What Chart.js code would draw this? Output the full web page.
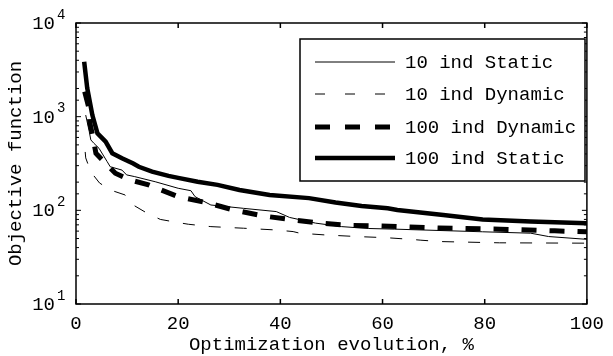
<!DOCTYPE html>
<html>
<head>
<meta charset="utf-8">
<script src="https://cdn.jsdelivr.net/npm/chart.js@4.4.1/dist/chart.umd.min.js"></script>
<style>
  html, body { margin: 0; padding: 0; background: #fff; }
  #c { display: block; }
</style>
</head>
<body>
<canvas id="c" width="613" height="356"></canvas>
<script>
// ---- data (x in %, y = objective function) ----
const s10X = [1.9, 2.6, 2.9, 3.5, 4.5, 6.1, 6.7, 9.0, 9.9, 11.5, 15.5, 20, 22.5, 23.3, 26.4, 32.8, 39.2, 41.8, 46.9, 52, 57.2, 62.3, 79.6, 89, 92.5, 100];
const s10Y = [1040, 692, 565, 520, 460, 331, 292, 269, 239, 229, 202, 172, 162, 140, 114, 105, 97, 84, 73, 67, 64, 63, 59, 57, 52.5, 49];

const d10X = [1.8, 1.9, 2.9, 4.6, 6.7, 9.6, 11.2, 13.8, 16.5, 19.4, 22, 26.4, 32.8, 39.2, 42.5, 43.8, 48.8, 55, 60.8, 65.6, 67.5, 71.3, 82.9, 100];
const d10Y = [420, 363, 257, 196, 165, 146, 114, 94, 80, 75, 71, 67, 64.4, 61.7, 59.3, 57, 54.6, 52.5, 51, 49, 48, 46.4, 45, 44.6];

const d100X = [1.7, 2.5, 2.7, 3.3, 3.9, 5.8, 7.7, 10.6, 14.2, 20, 25.8, 30.8, 36.7, 42.5, 48, 53.5, 59.8, 71, 83, 93.7, 100];
const d100Y = [1850, 1250, 860, 612, 406, 318, 249, 211, 187, 140, 120, 101, 87, 79, 73, 69, 68, 64.6, 63, 60.4, 59];

const s100X = [1.6, 2.2, 3.2, 4.2, 5.8, 7.1, 9.0, 11.2, 12.3, 14.9, 18.1, 20, 23.8, 27.7, 32, 37.9, 45.6, 50.8, 55.9, 61, 62.9, 71.9, 79.6, 89, 100];
const s100Y = [3860, 2010, 1040, 665, 541, 407, 360, 316, 292, 259, 233, 222, 202, 187, 165, 146, 135, 121, 111, 105, 101, 89, 80, 76, 73];

const seriesLabels = ['10 ind Static', '10 ind Dynamic', '100 ind Dynamic', '100 ind Static'];
const xTickValues = [0, 20, 40, 60, 80, 100];
const xTitle = 'Optimization evolution, %';
const yTitle = 'Objective function';
const yMin = 10, yMax = 10000;

const pts = (xs, ys) => xs.map((x, i) => ({ x: x, y: ys[i] }));

const FONT = 'Liberation Mono, Courier New, monospace';
const FS = 19;

const boxPlugin = {
  id: 'matlabBox',
  afterDatasetsDraw(chart) {
    const ctx = chart.ctx;
    const a = chart.chartArea;
    const xs = chart.scales.x, ys = chart.scales.y;
    ctx.save();
    ctx.strokeStyle = '#000';
    ctx.lineWidth = 1.5;
    ctx.setLineDash([]);
    // axis box
    ctx.strokeRect(a.left, a.top, a.right - a.left, a.bottom - a.top);
    // x ticks (inward, bottom + top)
    ctx.beginPath();
    xTickValues.forEach(v => {
      const px = xs.getPixelForValue(v);
      ctx.moveTo(px, a.bottom); ctx.lineTo(px, a.bottom - 5);
      ctx.moveTo(px, a.top); ctx.lineTo(px, a.top + 5);
    });
    ctx.stroke();
    // y ticks (major + minor), left + right
    ctx.lineWidth = 1;
    ctx.beginPath();
    ys.ticks.forEach(t => {
      const v = t.value;
      const lg = Math.log10(v);
      const major = Math.abs(lg - Math.round(lg)) < 1e-9;
      const len = major ? 5 : 3;
      const py = ys.getPixelForValue(v);
      ctx.moveTo(a.left, py); ctx.lineTo(a.left + len, py);
      ctx.moveTo(a.right, py); ctx.lineTo(a.right - len, py);
    });
    ctx.stroke();
    // y tick labels 10^n
    ctx.fillStyle = '#000';
    ys.ticks.forEach(t => {
      const v = t.value;
      const lg = Math.log10(v);
      if (Math.abs(lg - Math.round(lg)) > 1e-9) return;
      const py = ys.getPixelForValue(v);
      ctx.font = FS + 'px ' + FONT;
      ctx.textAlign = 'right';
      ctx.textBaseline = 'middle';
      ctx.fillText('10', a.left - 21, py + 1);
      ctx.font = '14px ' + FONT;
      ctx.textAlign = 'left';
      ctx.fillText(String(Math.round(lg)), a.left - 19, py - 8);
    });

    // legend
    const lx = 300, ly = 39, lw = 285, lh = 142;
    ctx.fillStyle = '#fff';
    ctx.fillRect(lx, ly, lw, lh);
    ctx.lineWidth = 1.5;
    ctx.strokeStyle = '#000';
    ctx.strokeRect(lx, ly, lw, lh);
    const rows = [62, 94, 127, 158];
    chart.data.datasets.forEach((ds, i) => {
      const y = rows[i];
      ctx.save();
      ctx.strokeStyle = ds.borderColor;
      ctx.lineWidth = ds.borderWidth;
      ctx.setLineDash(ds.legendDash || []);
      ctx.beginPath();
      ctx.moveTo(315, y); ctx.lineTo(395, y);
      ctx.stroke();
      ctx.restore();
      ctx.fillStyle = '#000';
      ctx.font = FS + 'px ' + FONT;
      ctx.textAlign = 'left';
      ctx.textBaseline = 'middle';
      ctx.fillText(ds.label, 405, y + 1);
    });
    ctx.restore();
  }
};

new Chart(document.getElementById('c'), {
  type: 'line',
  data: {
    datasets: [
      { label: seriesLabels[0], data: pts(s10X, s10Y), borderColor: '#000', borderWidth: 1, borderDash: [], legendDash: [] },
      { label: seriesLabels[1], data: pts(d10X, d10Y), borderColor: '#000', borderWidth: 1, borderDash: [12, 14], legendDash: [10, 20] },
      { label: seriesLabels[2], data: pts(d100X, d100Y), borderColor: '#000', borderWidth: 5, borderDash: [15, 13], legendDash: [15, 15] },
      { label: seriesLabels[3], data: pts(s100X, s100Y), borderColor: '#000', borderWidth: 4.5, borderDash: [], legendDash: [] }
    ]
  },
  options: {
    responsive: false,
    animation: false,
    devicePixelRatio: 1,
    layout: { padding: { top: 23, right: 17, left: 0, bottom: 0 } },
    elements: { point: { radius: 0 }, line: { tension: 0, fill: false, borderCapStyle: 'butt' } },
    plugins: { legend: { display: false }, tooltip: { enabled: false } },
    scales: {
      x: {
        type: 'linear', min: 0, max: 100,
        afterBuildTicks: (s) => { s.ticks = xTickValues.map(v => ({ value: v })); },
        grid: { display: false, drawTicks: false },
        border: { display: false },
        ticks: { color: '#000', font: { family: FONT, size: FS }, padding: 9, maxRotation: 0 },
        title: { display: true, text: xTitle, color: '#000', font: { family: FONT, size: FS }, padding: { top: 0, bottom: 0 } },
        afterFit: (s) => { s.height = 52; }
      },
      y: {
        type: 'logarithmic', min: yMin, max: yMax,
        grid: { display: false, drawTicks: false },
        border: { display: false },
        ticks: { display: false },
        title: { display: true, text: yTitle, color: '#000', font: { family: FONT, size: FS }, padding: { top: 5, bottom: 0 } },
        afterFit: (s) => { s.width = 76; }
      }
    }
  },
  plugins: [boxPlugin]
});
</script>
</body>
</html>
